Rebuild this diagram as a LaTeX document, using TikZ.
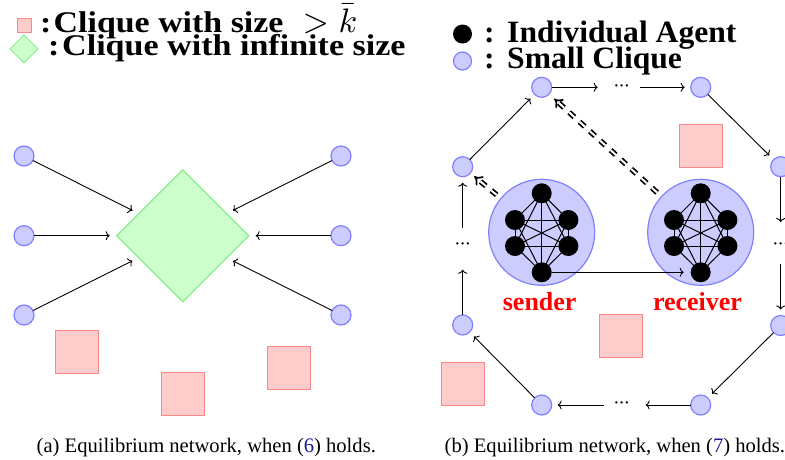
\documentclass[tikz,border=0pt]{standalone}
\usepackage{fontspec}
\setmainfont{Liberation Serif}
\usetikzlibrary{shapes.geometric,arrows.meta}
\definecolor{cfill}{HTML}{CCCCFF}
\definecolor{cdraw}{HTML}{8080FF}
\definecolor{sqfill}{HTML}{FFCCCC}
\definecolor{sqdraw}{HTML}{FF8888}
\definecolor{dfill}{HTML}{CCFFCC}
\definecolor{ddraw}{HTML}{88EE88}
\definecolor{refblue}{HTML}{1A1A99}
\begin{document}
\begin{tikzpicture}[x=1pt,y=-1pt,
 sc/.style={circle,fill=cfill,draw=cdraw,line width=1.2pt,minimum size=20pt,inner sep=0pt,outer sep=0pt},
 agent/.style={circle,fill=black,minimum size=20pt,inner sep=0pt,outer sep=0pt},
 bigc/.style={circle,fill=cfill,draw=cdraw,line width=1.2pt,minimum size=106pt,inner sep=0pt,outer sep=0pt},
 sq/.style={rectangle,fill=sqfill,draw=sqdraw,line width=1.2pt,minimum size=43pt,inner sep=0pt},
 dia/.style={diamond,fill=dfill,draw=ddraw,line width=1.2pt,inner sep=0pt,outer sep=0pt,minimum size=132pt},
 arr/.style={-{To[length=4pt,width=9pt]},line width=0.9pt,shorten >=6pt},
 dotsn/.style={inner sep=0pt,outer sep=0pt,minimum size=36pt,font=\fontsize{14}{14}\selectfont\bfseries},
 dbl/.style={double,double distance=2pt,line width=1.7pt,dash pattern=on 7pt off 7pt,-{Implies[]}},
 legl/.style={anchor=base west,inner sep=0pt,font=\fontsize{30}{34}\selectfont\bfseries},
 legr/.style={anchor=base west,inner sep=0pt,font=\fontsize{31}{36}\selectfont\bfseries},
 redl/.style={anchor=base,inner sep=0pt,text=red,font=\fontsize{26}{30}\selectfont\bfseries},
 capt/.style={anchor=base west,inner sep=0pt,font=\fontsize{20.6}{24}\selectfont},
 k6/.style={line width=1pt}
]
\useasboundingbox (0,0) rectangle (785,459);
\newcommand{\mydots}{\raisebox{-1pt}{·\kern0.6pt·\kern0.6pt·}}

% ---------- legend left ----------
\node[sq,minimum size=14pt,line width=1pt] (lsq) at (24,25) {};
\node[dia,minimum size=28pt,line width=1pt] (ldia) at (24,49) {};
\node[legl,xscale=1.13] (lc1) at (40,32) {:};
\node[legl,xscale=1.13] (lt1) at (53.5,32) {Clique with size};
\node[anchor=base west,inner sep=0pt,scale=3.4] (lk) at (302,32) {$>\bar{k}$};
\node[legl,xscale=1.135] (lc2) at (48,55.5) {:};
\node[legl,xscale=1.135] (lt2) at (62,55.5) {Clique with infinite size};

% ---------- legend right ----------
\node[agent,minimum size=19pt] (rag) at (462.5,34) {};
\node[sc,minimum size=18pt] (rsc) at (462.5,61) {};
\node[legr,xscale=1.02] (rc1) at (484,42) {:};
\node[legr,xscale=1.02] (rt1) at (507,42) {Individual Agent};
\node[legr,xscale=1.02] (rc2) at (484,68) {:};
\node[legr,xscale=1.02] (rt2) at (507,68) {Small Clique};

% ---------- panel (a) ----------
\node[sq] (qa1) at (77,352) {};
\node[sq] (qa2) at (182.8,394.3) {};
\node[sq] (qa3) at (288.7,368) {};
\node[dia] (D) at (182.7,235.7) {};
\node[sc] (la1) at (24,156) {};
\node[sc] (la2) at (24,235.7) {};
\node[sc] (la3) at (24,315) {};
\node[sc] (ra1) at (341,156) {};
\node[sc] (ra2) at (341,235.7) {};
\node[sc] (ra3) at (341,315) {};
\foreach \n in {la1,la2,la3,ra1,ra2,ra3} \draw[arr,shorten >=7pt] (\n) -- (D);

% ---------- panel (b) ----------
\node[sq] (qb1) at (701,145.8) {};
\node[sq] (qb2) at (621.3,336.3) {};
\node[sq] (qb3) at (463,383.8) {};

\node[sc] (T1) at (541.7,87.3) {};
\node[dotsn] (td) at (621.7,87.3) {\mydots};
\node[sc] (T2) at (700.7,87.3) {};
\node[sc] (R1) at (780.7,166.7) {};
\node[dotsn] (rd) at (780.7,246) {\mydots};
\node[sc] (R2) at (780.7,325.5) {};
\node[sc] (B2) at (700.7,405) {};
\node[dotsn] (bd) at (621.7,405) {\mydots};
\node[sc] (B1) at (541.7,405) {};
\node[sc] (L2) at (462.7,325) {};
\node[dotsn] (ld) at (462.7,245.7) {\mydots};
\node[sc] (L1) at (462.7,166.7) {};

\draw[arr] (T1) -- (td);
\draw[arr] (td) -- (T2);
\draw[arr] (T2) -- (R1);
\draw[arr] (R1) -- (rd);
\draw[arr] (rd) -- (R2);
\draw[arr] (R2) -- (B2);
\draw[arr] (B2) -- (bd);
\draw[arr] (bd) -- (B1);
\draw[arr] (B1) -- (L2);
\draw[arr] (L2) -- (ld);
\draw[arr] (ld) -- (L1);
\draw[arr] (L1) -- (T1);

% cliques
\node[bigc] (S) at (541.7,232.3) {};
\node[bigc] (R) at (700.7,232.3) {};
\foreach \c/\ctr in {s/S,r/R} {
  \coordinate (\c1) at ([shift={(0,-39)}]\ctr);
  \coordinate (\c2) at ([shift={(-26.7,-12.3)}]\ctr);
  \coordinate (\c3) at ([shift={(26.7,-12.3)}]\ctr);
  \coordinate (\c4) at ([shift={(-26.7,13.7)}]\ctr);
  \coordinate (\c5) at ([shift={(26.7,13.7)}]\ctr);
  \coordinate (\c6) at ([shift={(0,40)}]\ctr);
  \foreach \i/\j in {1/2,1/3,1/4,1/5,1/6,2/3,2/4,2/5,2/6,3/4,3/5,3/6,4/5,4/6,5/6}
    \draw[k6] (\c\i) -- (\c\j);
  \foreach \i in {1,...,6}
    \node[agent] (\c a\i) at (\c\i) {};
}
\draw[arr,shorten >=7pt] (sa6) -- (ra6);

\draw[dbl,shorten <=6pt,shorten >=7pt] (R) -- (T1);
\draw[dbl,shorten <=5.5pt,shorten >=5pt] (S) -- (L1);

\node[redl] (snd) at (539.7,310) {sender};
\node[redl] (rcv) at (697.5,310) {receiver};

% ---------- captions ----------
\node[capt] (ca) at (36.5,452) {(a) Equilibrium network, when ({\color{refblue}6}) holds.};
\node[capt] (cb) at (444.5,452) {(b) Equilibrium network, when ({\color{refblue}7}) holds.};
\end{tikzpicture}
\end{document}
